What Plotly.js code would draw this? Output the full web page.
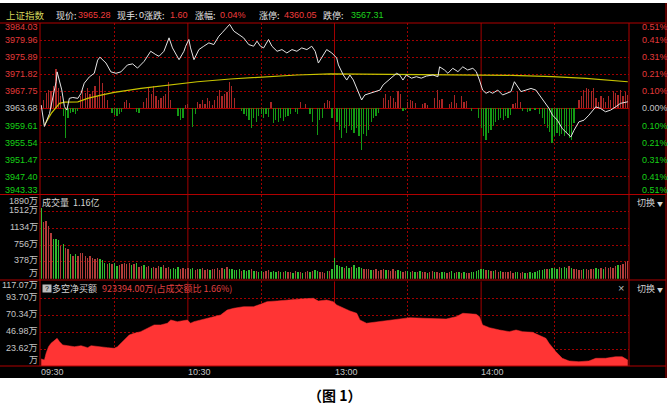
<!DOCTYPE html>
<html><head><meta charset="utf-8">
<script src="https://cdn.plot.ly/plotly-3.0.1.min.js"></script>
<style>html,body{margin:0;padding:0;background:#fff;} #chart{width:671px;height:414px;}</style>
</head><body><div id="chart"></div>
<script>
// ---------- DATA ----------
const prevClose = 3963.68;
const priceMin = [0,1.3,3.4,4.8,6.1,6.5,7.5,8.4,9.5,10.5,11.5,12.9,15,16.3,17.6,19.7,21.7,23.1,24,25.1,26.5,28.5,30.6,32.6,35.3,37.4,39.4,42.1,44.8,46.9,48.2,50.2,52.3,53.7,56.4,58.4,59.1,60.4,61.1,62.5,64.5,66.5,68.6,70.6,72.7,74,76.1,77.1,78.8,80.8,82.8,84.9,86.9,88.3,89.7,91,93,94.4,96.5,98.5,100.5,102.6,104.6,106.6,108.7,110.7,112.1,113.4,114.8,116.8,118.9,120.9,121.6,123.6,125,126.3,127.7,129.1,131.1,132.4,134.5,136.5,138.6,139.9,141.3,143.3,145.4,146.7,148,149.4,151.5,153.5,155.5,157.6,160.3,162.3,163,165,166.4,168.4,170.5,172.5,174.5,176.6,178,179.3,180.6,182,183.4,184.7,186.8,188.8,190.8,192.2,193.6,194.9,196.3,198.3,200.4,202.4,203.8,205.8,207.8,209.2,211.2,213.2,215.3,216.7,218,220,222.1,224.1,226.9,228.9,230.9,233,235,237,240];
const priceVal = [3964.5,3959.4,3962.5,3966.1,3970.05,3972.4,3969.7,3968.1,3964.1,3963.3,3966.1,3966.3,3966.1,3967.3,3969.7,3971.2,3972.06,3975.2,3975.9,3975.2,3974.5,3972.4,3972.06,3972.4,3974.05,3974.3,3973.3,3974.9,3977.3,3976.5,3976.1,3977.3,3980.5,3978.1,3975.3,3977.3,3978.5,3980.1,3978.1,3975.3,3977.7,3978.5,3979.3,3978.9,3980.9,3981.7,3982.9,3983.7,3982.1,3981.3,3980.5,3978.9,3978.5,3979.7,3978.5,3978.1,3980.1,3978.5,3977.3,3977.7,3976.9,3977.7,3977.3,3978.1,3977.7,3978.5,3977.3,3974.5,3975.7,3977.7,3976.9,3975.7,3974.05,3971.65,3970.45,3971.65,3970.45,3968.5,3965.7,3966.9,3967.3,3967.7,3968.06,3969.3,3970.05,3970.9,3972.06,3971.65,3970.45,3971.65,3970.9,3971.25,3970.9,3971.4,3971.65,3971.25,3973.6,3972.85,3972.06,3973.25,3972.45,3973.6,3972.85,3973.25,3972.45,3970.45,3968.06,3967.3,3967.7,3967.3,3968.06,3966.9,3967.3,3967.7,3970.05,3968.85,3967.7,3968.06,3968.45,3968.06,3966.9,3965.3,3963.68,3962.1,3960.9,3958.9,3957.7,3956.9,3958.5,3960.5,3960.9,3962.1,3964.06,3963.68,3962.9,3963.3,3964.06,3964.9,3965.28];
const avgMin = [1.3,4.1,7.5,9.5,15,19,24.5,29.9,40.8,53,63.9,77.4,91,104.6,118.2,131.6,154.9,179.3,192.7,209,222.9,240];
const avgVal = [3959.7,3962.5,3964.9,3965.2,3965.26,3966.07,3966.86,3967.5,3968.47,3969.26,3970.05,3970.7,3971.25,3971.65,3971.9,3971.82,3971.72,3971.65,3971.58,3971.25,3970.86,3970.05];
const forceMin = [1,2,3,4,5,6,7,8,9,10,11,12,13,14,15,16,17,18,19,20,21,22,23,24,25,26,27,29,30,31,32,33,34,35,36,39,40,42,43,44,45,46,47,48,49,50,51,52,53,56,57,58,59,60,62,63,64,65,66,67,68,69,70,71,72,73,74,75,76,77,78,79,82,83,84,85,86,87,88,89,90,91,92,93,94,95,96,97,98,99,100,101,102,104,105,106,108,110,111,113,114,115,116,117,118,119,121,122,123,124,125,126,127,128,129,130,131,132,133,134,135,136,137,138,140,141,142,143,144,145,146,147,148,149,150,151,152,153,156,157,158,161,162,163,164,167,168,169,170,172,173,174,176,179,180,181,182,183,184,185,186,187,188,189,190,191,192,193,194,195,196,197,199,200,202,204,205,206,207,208,209,210,211,212,213,214,215,216,217,218,220,221,222,223,224,225,226,227,228,229,230,231,232,233,234,235,236,237,238,239,240];
const forceVal = [8,15,18,17,22,40,20,12,-8,-30,-10,-5,-4,-6,-3,12,18,15,20,14,17,22,12,33,25,15,8,-5,-7,-8,-6,-4,6,8,5,-4,-5,6,10,20,14,22,12,8,10,12,14,27,8,-8,-12,-10,3,4,-19,-6,6,4,8,4,10,7,3,8,12,18,12,14,16,27,22,10,-3,-6,-8,-12,-20,-10,-14,-8,-6,-10,-6,-9,6,-15,-12,-14,-10,-13,-9,-8,-6,-4,-6,6,4,-6,-14,-27,-12,-10,5,8,7,-10,-14,-22,-30,-20,-25,-18,-22,-25,-20,-28,-42,-26,-28,-22,-14,-10,-8,-5,10,14,8,12,10,6,17,14,-3,-2,6,8,7,5,4,5,3,10,18,8,9,4,6,13,5,12,6,7,-3,-10,-20,-28,-32,-25,-22,-18,-14,-12,-10,-12,-8,-10,-7,4,5,17,6,-3,-4,-3,-2,-6,-10,-16,-20,-24,-35,-28,-25,-28,-26,-28,-25,-30,-32,-15,8,12,18,20,19,17,20,10,6,12,10,6,12,8,17,15,13,18,12,16,13];
// volume per minute (万手), 09:30 .. 15:00
const volume = [
 1600,1280,1300,1190,1040,900,900,875,740,780,
 700,660,550,510,550,510,590,570,520,475,
 510,475,450,475,440,420,360,325,360,325,
 345,285,300,325,345,325,345,300,325,360,
 270,280,300,260,290,250,270,240,280,260,
 300,240,260,230,250,220,260,230,240,210,
 250,220,240,200,230,210,250,200,220,190,
 230,210,240,200,250,220,260,230,210,200,
 190,210,180,200,170,190,210,180,170,160,
 180,160,170,190,150,170,160,180,150,160,
 170,150,160,140,170,150,160,140,150,170,
 160,180,200,170,150,160,140,170,180,220,
 460,300,280,260,250,280,240,260,300,250,
 270,240,220,230,210,200,190,210,180,200,
 220,190,200,180,210,170,190,180,160,170,
 180,160,170,150,160,170,150,160,140,150,
 170,150,160,140,150,160,140,150,170,140,
 150,160,140,150,130,140,150,160,180,200,
 220,210,190,200,180,170,190,160,170,150,
 160,150,170,140,160,150,140,150,130,140,
 150,140,160,170,190,200,220,230,210,240,
 250,230,270,240,260,250,280,240,230,210,
 200,190,210,220,200,230,210,240,220,250,
 230,260,240,270,250,290,310,300,340,385,
 400];
const volUpDown = ("GRRRR GGGRG RRGRG RRRRR RRRRG GGRGR GGRRR RRGRG " +
 "RRGRR GRRRG RRRGG GGRRR RGGRR GRRRG RRRRR GRGGG " +
 "GGRGG GRGRG GRRRG GGRGR GRRGR GRGRR GRGGR RRGRG " +
 "GGGGR GGRGG GGRRR GRRRR RGRRR RGGRR GGRGR GRRGR " +
 "RGRRG GRRGG RGRGR RGGGG GGRGR GRRGR RRRRG GRRGR " +
 "GGGGG GGRGG GGRGG GRGRR RRGRR RRGGR GRRRR RGRRR R").replace(/ /g,'');
const netMin = [0,1.3,2,3,4,5.4,6.5,7.5,8.8,10.9,13.6,16.3,19,20.4,23.1,27.2,29.9,31.2,32.6,33.9,36,38,40.7,43.5,46.2,48.9,51.6,53,55.7,59.8,61.1,62.5,65.2,67.9,70.6,73.4,76.1,78.8,82.8,86.9,89.7,92.4,96.5,100.5,106,111.4,113.4,116.8,119.5,120.9,123.6,126.3,129.1,130.4,133.1,135.8,139.9,145.4,150.8,156.2,161.6,165.7,169.8,172.5,178,179.3,180.6,183.4,187.5,191.5,194.3,197,201,203.8,206.5,207.8,210.6,213.2,216,220,224.1,226.9,230.9,235,237.7,240];
const netVal = [10,8.5,18,27,31.6,36.2,38.5,33.8,29.3,28.3,26.9,28.3,25.6,28.3,26.9,25.6,24.7,26.9,31.6,36.2,43.1,45.4,47.7,52.4,57,57,59.3,63.8,61.5,63.8,59.3,61.5,63.8,66.2,68.4,70.7,77.6,80,82.2,82.2,85.5,89.1,90.1,91.5,92.9,93.8,90.1,91.5,89.1,84.6,80,76.3,73.1,63.8,59.3,60.6,62.4,65.2,67,66.2,66.2,65.2,68.4,73.1,71.7,68.4,57,53.2,50,47.7,50,47.7,46.8,43.1,38.5,31.6,20,10.9,7.2,6.2,7.2,10.9,10.9,13.1,13.1,8.5];
const priceTicks = [3984.03,3979.96,3975.89,3971.82,3967.75,3963.68,3959.61,3955.54,3951.47,3947.40,3943.33];
const priceTickText = ["3984.03","3979.96","3975.89","3971.82","3967.75","3963.68","3959.61","3955.54","3951.47","3947.40","3943.33"];
const pctTickText = ["0.51%","0.41%","0.31%","0.21%","0.10%","0.00%","0.10%","0.21%","0.31%","0.41%","0.51%"];
const volTicks = [1890,1512,1134,756,378,0];
const volTickText = ["1890万","1512万","1134万","756万","378万","万"];
const netTicks = [117.07,93.70,70.34,46.98,23.62,0.26];
const netTickText = ["117.07万","93.70万","70.34万","46.98万","23.62万","万"];
const timeTicks = [0,60,120,180];
const timeTickText = ["09:30","10:30","13:00","14:00"];
const halfHourTicks = [30,90,150,210];
const headerLabels = ["现价:","现手:","涨跌:","涨幅:","涨停:","跌停:"];
const headerValues = ["3965.28","0","1.60","0.04%","4360.05","3567.31"];

// ---------- STYLE ----------
const RED_TXT = '#e23a3a', GREEN_TXT = '#16d016', GREY_TXT = '#c4c4c4';
const GRID = '#a00000', BORDER = '#b00000';
const FONT = '"Noto Sans CJK SC", "Noto Sans", sans-serif';
const NUMFONT = '"Liberation Sans", "Noto Sans CJK SC", sans-serif';
const px = v => (v - 40) / 589;   // page px -> paper x
const py = v => (366 - v) / 343;  // page px -> paper y

const volIdx = volume.map((v, i) => i);
const traces = [
  {type:'bar', x: forceMin, y: forceVal, xaxis:'x', yaxis:'y', width:0.5,
   marker:{color: forceVal.map(v => v >= 0 ? '#a82626' : '#149a14'), line:{width:0}}},
  {type:'scatter', mode:'lines', x: avgMin, y: avgVal, xaxis:'x', yaxis:'y4',
   line:{color:'#c8c400', width:1.2}},
  {type:'scatter', mode:'lines', x: priceMin, y: priceVal, xaxis:'x', yaxis:'y4',
   line:{color:'#e4e4e4', width:1}},
  {type:'bar', x: volIdx, y: volume, xaxis:'x', yaxis:'y2', width:0.55,
   marker:{color: volume.map((v, i) => volUpDown[i] === 'G' ? '#30bb30' : '#b23c3a'), line:{width:0}}},
  {type:'scatter', mode:'lines', x: netMin, y: netVal, xaxis:'x', yaxis:'y3',
   fill:'tozeroy', fillcolor:'#ff3434', line:{color:'#ff3434', width:0.5}}
];

const gridAxis = (extra) => Object.assign({showticklabels:false, ticks:'', zeroline:false, showline:false,
  showgrid:true, gridcolor:GRID, gridwidth:1, griddash:'2px,2px', fixedrange:true}, extra);

const layout = {
  width:671, height:414,
  margin:{l:40, r:42, t:23, b:48, pad:0},
  paper_bgcolor:'#ffffff', plot_bgcolor:'#000000',
  showlegend:false, hovermode:false, bargap:0,
  font:{family:FONT, size:9, color:GREY_TXT},
  xaxis: gridAxis({domain:[0,1], range:[-0.5,240.5], anchor:'y3', tickvals:halfHourTicks}),
  yaxis: {domain:[0.5015,1], range:[-85.5,85.5], anchor:'x', showticklabels:false, ticks:'',
          showgrid:false, zeroline:false, showline:false, fixedrange:true},
  yaxis4: gridAxis({overlaying:'y', range:[priceTicks[10], priceTicks[0]], anchor:'x',
          tickvals: priceTicks.filter((v,i) => i > 0 && i < 10 && i !== 5)}),
  yaxis2: gridAxis({domain:[0.2545,0.4985], range:[0,1890], anchor:'x', tickvals: volTicks.slice(1,5)}),
  yaxis3: gridAxis({domain:[0,0.2466], range:[0.26,117.07], anchor:'x', tickvals: netTicks.slice(1,5)}),
  shapes:[], annotations:[]
};

const S = layout.shapes, A = layout.annotations;
S.push({type:'rect', xref:'paper', yref:'paper', x0:px(0), x1:px(667), y0:py(378), y1:py(3),
        fillcolor:'#000', line:{width:0}, layer:'below'});
S.push({type:'line', xref:'paper', yref:'y', x0:0, x1:1, y0:0, y1:0, line:{color:BORDER, width:1}, layer:'below'});
timeTicks.slice(1).forEach(t => ['y domain','y2 domain','y3 domain'].forEach(r => {
  S.push({type:'line', xref:'x', yref:r, x0:t, x1:t, y0:0, y1:1, line:{color:GRID, width:1}, layer:'below'});
}));
[23, 194.5, 280, 366].forEach(y => S.push({type:'line', xref:'paper', yref:'paper', x0:px(0), x1:px(666),
  y0:py(y), y1:py(y), line:{color:BORDER, width:1}, layer:'above'}));
[40, 629].forEach(x => S.push({type:'line', xref:'paper', yref:'paper', x0:px(x), x1:px(x),
  y0:0, y1:1, line:{color:BORDER, width:1}, layer:'above'}));
S.push({type:'line', xref:'paper', yref:'paper', x0:px(666), x1:px(666), y0:py(378), y1:py(3),
  line:{color:BORDER, width:1}, layer:'above'});

const ann = (o) => A.push(Object.assign({showarrow:false, borderpad:0, font:{family:NUMFONT, size:9, color:GREY_TXT}}, o));
priceTicks.forEach((v, i) => {
  const col = i < 5 ? RED_TXT : (i === 5 ? GREY_TXT : GREEN_TXT);
  const sh = i === 0 ? -4 : (i === 10 ? 4 : 0);
  ann({xref:'paper', yref:'y4', x:px(39), y:v, xanchor:'right', yanchor:'middle', yshift:sh,
       text:priceTickText[i], font:{family:NUMFONT, size:9, color:col}});
  ann({xref:'paper', yref:'y4', x:px(641), y:v, xanchor:'left', yanchor:'middle', yshift:sh,
       text:pctTickText[i], font:{family:NUMFONT, size:9, color:col}});
});
volTicks.forEach((v, i) => ann({xref:'paper', yref:'y2', x:px(39), y:v, xanchor:'right', yanchor:'middle',
  yshift: i === 0 ? -6 : (i === 5 ? 6 : 1.5), text:volTickText[i]}));
netTicks.forEach((v, i) => ann({xref:'paper', yref:'y3', x:px(39), y:v, xanchor:'right', yanchor:'middle',
  yshift: i === 0 ? -4 : (i === 5 ? 6 : 1.5), text:netTickText[i]}));
timeTicks.forEach((t, i) => ann({xref:'x', yref:'paper', x:t, y:py(371.5), xanchor:'left', yanchor:'middle',
  xshift:-1, text:timeTickText[i]}));

// header
const hy = py(15);
ann({xref:'paper', yref:'paper', x:px(5), y:hy, xanchor:'left', yanchor:'middle', text:'上证指数',
     font:{family:FONT, size:9.5, color:'#d6d65a'}});
const labelX = [55,116,143,194,258,322];
const valueX = [77,137.5,169,219,283,350];
const valueCol = ['#f03c3c','#e6e6e6','#f03c3c','#f03c3c','#f03c3c','#1ed21e'];
headerLabels.forEach((t, i) => {
  ann({xref:'paper', yref:'paper', x:px(labelX[i]), y:hy, xanchor:'left', yanchor:'middle', text:t,
       font:{family:FONT, size:9, color:'#e6e6e6'}});
  ann({xref:'paper', yref:'paper', x:px(valueX[i]), y:hy, xanchor:'left', yanchor:'middle', text:headerValues[i],
       font:{family:NUMFONT, size:9, color:valueCol[i]}});
});

// panel captions
ann({xref:'paper', yref:'paper', x:px(41), y:py(202.5), xanchor:'left', yanchor:'middle', text:'成交量  1.16亿',
     font:{family:FONT, size:9, color:'#d4d4d4'}});
ann({xref:'paper', yref:'paper', x:px(42), y:py(288), xanchor:'left', yanchor:'middle', text:' ? ',
     bgcolor:'#bcbcbc', font:{family:NUMFONT, size:7, color:'#000'}});
ann({xref:'paper', yref:'paper', x:px(51), y:py(288), xanchor:'left', yanchor:'middle', text:'多空净买额',
     font:{family:FONT, size:9, color:'#d4d4d4'}});
ann({xref:'paper', yref:'paper', x:px(101), y:py(288), xanchor:'left', yanchor:'middle',
     text:'923394.00万(占成交额比 1.66%)', font:{family:FONT, size:9, color:'#e04040'}});
[203, 288].forEach(y => ann({xref:'paper', yref:'paper', x:px(636), y:py(y), xanchor:'left', yanchor:'middle',
     text:'切换 <span style="font-size:6px">▼</span>', font:{family:FONT, size:9, color:'#d0d0d0'}}));
ann({xref:'paper', yref:'paper', x:px(621), y:py(288), xanchor:'center', yanchor:'middle', text:'×',
     font:{family:NUMFONT, size:11, color:'#b8b8b8'}});
ann({xref:'paper', yref:'paper', x:px(334), y:py(395), xanchor:'center', yanchor:'middle', text:'<b>（图 1）</b>',
     font:{family:FONT, size:14, color:'#000'}});

Plotly.newPlot('chart', traces, layout, {staticPlot:true, displayModeBar:false});
</script></body></html>
